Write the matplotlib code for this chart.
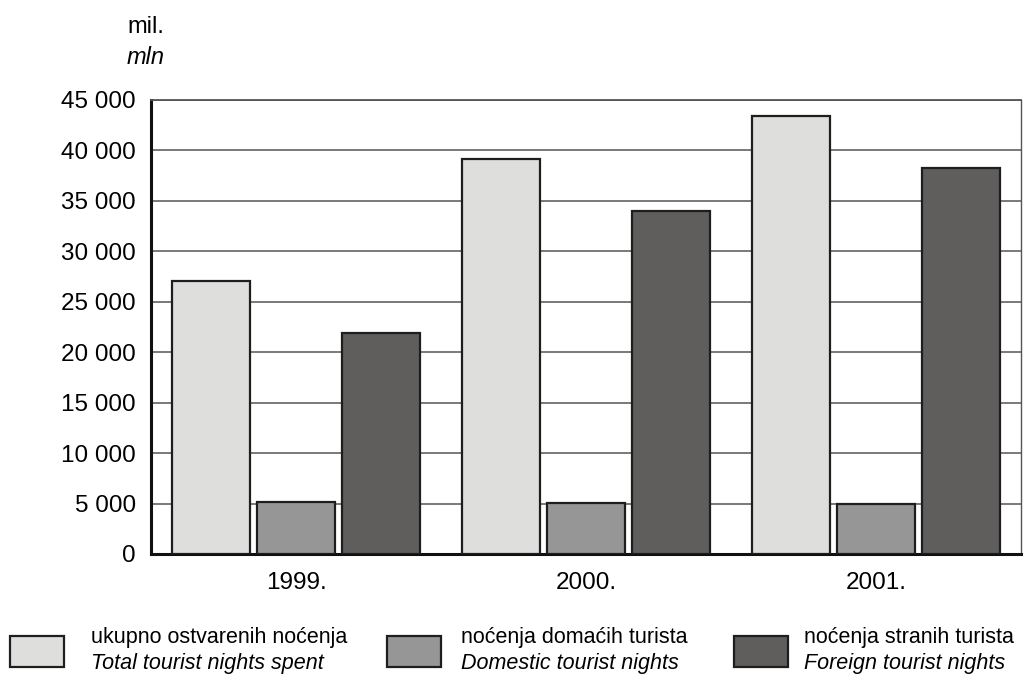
import numpy as np
import matplotlib.pyplot as plt
from matplotlib.patches import Rectangle

plt.rcParams['font.family'] = ['Liberation Sans Narrow', 'Liberation Sans', 'DejaVu Sans']

# podaci (tisuće noćenja)
godine = ['1999.', '2000.', '2001.']
ukupno = [27100, 39200, 43400]
domaci = [5200, 5100, 5000]
strani = [21900, 34000, 38300]

serije = [ukupno, domaci, strani]
boje = ['#dededc', '#969696', '#5f5e5c']
oznake_hr = ['ukupno ostvarenih noćenja', 'noćenja domaćih turista', 'noćenja stranih turista']
oznake_en = ['Total tourist nights spent', 'Domestic tourist nights', 'Foreign tourist nights']

fig = plt.figure(figsize=(10.24, 6.81), dpi=100)
ax = fig.add_axes([151/1024, 1 - 554/681, 870/1024, 454/681])

x = np.arange(len(godine))
sirina = 0.272
korak = 0.293
for i, (vals, c) in enumerate(zip(serije, boje)):
    ax.bar(x + (i - 1) * korak, vals, width=sirina, color=c,
           edgecolor='#1e1e1e', linewidth=1.6, zorder=3)

ax.set_xlim(-0.5, 2.5)
ax.set_ylim(0, 45000)
yt = np.arange(0, 45001, 5000)
ax.set_yticks(yt)
ax.set_yticklabels(['0'] + [f'{v // 1000} 000' for v in yt[1:]], fontsize=17.5)
ax.set_xticks(x)
ax.set_xticklabels(godine, fontsize=17.5)
ax.tick_params(axis='y', length=0, pad=11)
ax.tick_params(axis='x', length=0, pad=13)
ax.yaxis.grid(True, color='#6e6e6e', linewidth=1.3, zorder=0)
ax.set_axisbelow(True)

for s in ['left', 'bottom']:
    ax.spines[s].set_linewidth(2.2)
    ax.spines[s].set_color('#111111')
ax.spines['top'].set_color('#555555')
ax.spines['top'].set_linewidth(1.3)
ax.spines['right'].set_color('#555555')
ax.spines['right'].set_linewidth(1.0)

fig.text(127/1024, 1 - 27/681, 'mil.', fontsize=17, va='center', ha='left')
fig.text(127/1024, 1 - 58/681, 'mln', fontsize=17, style='italic', va='center', ha='left')

# legenda
leg_x = [10, 387, 734]
txt_x = [91, 461, 804]
for lx, tx, c, hr, en in zip(leg_x, txt_x, boje, oznake_hr, oznake_en):
    fig.patches.append(Rectangle((lx/1024, 1 - 667/681), 54/1024, 31/681,
                                 transform=fig.transFigure, facecolor=c,
                                 edgecolor='#1e1e1e', linewidth=1.6))
    fig.text(tx/1024, 1 - 637/681, hr, fontsize=15.5, va='center', ha='left')
    fig.text(tx/1024, 1 - 664/681, en, fontsize=15.5, style='italic', va='center', ha='left')

fig.savefig('out.png', dpi=100)
